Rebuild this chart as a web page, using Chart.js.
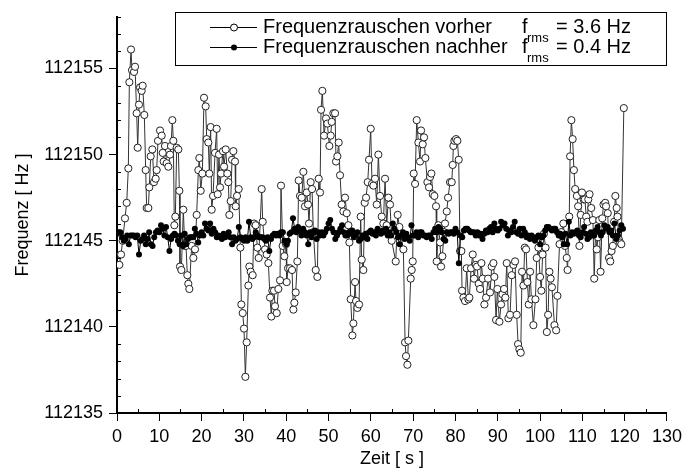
<!DOCTYPE html>
<html>
<head>
<meta charset="utf-8">
<script src="https://cdn.jsdelivr.net/npm/chart.js@4.4.1/dist/chart.umd.min.js"></script>
<style>
  html, body { margin: 0; padding: 0; background: #fff; }
  #chart { display: block; }
</style>
</head>
<body>
<canvas id="chart" width="687" height="474"></canvas>
<script>
// Achsen
const xTicks = [0, 10, 20, 30, 40, 50, 60, 70, 80, 90, 100, 110, 120, 130];
const yTicks = [112135, 112140, 112145, 112150, 112155];
const xMin = 0, xMax = 130, yMin = 112135, yMax = 112158;

// Frequenzrauschen vorher: [Zeit s, Frequenz Hz]
const vorher = [
  [0.55,112143.6],[0.95,112144.2],[1.34,112145.0],[1.89,112146.3],[2.29,112147.2],[2.68,112149.2],[2.92,112154.2],[3.31,112156.1],
  [3.55,112154.9],[4.02,112154.8],[4.26,112155.1],[4.65,112152.4],[4.89,112150.4],[5.20,112152.9],[5.44,112153.9],[5.83,112153.7],
  [6.07,112154.0],[6.46,112152.3],[6.78,112149.1],[7.01,112146.9],[7.41,112146.9],[7.64,112148.1],[7.96,112149.9],[8.35,112150.3],
  [8.75,112148.4],[9.14,112148.6],[9.38,112149.1],[9.69,112150.8],[10.17,112151.4],[10.56,112151.1],[10.80,112150.1],[11.03,112149.6],
  [11.35,112150.5],[11.74,112149.5],[12.14,112149.3],[12.53,112150.0],[12.77,112150.5],[13.08,112152.0],[13.32,112150.8],[13.55,112145.9],
  [13.79,112146.4],[14.11,112150.4],[14.50,112150.3],[14.74,112147.9],[14.89,112143.5],[15.21,112143.3],[15.68,112146.8],[16.00,112144.7],
  [16.31,112144.7],[16.63,112143.0],[16.86,112142.5],[17.10,112142.2],[17.65,112144.7],[18.05,112144.0],[18.44,112144.5],[18.83,112146.5],
  [19.23,112149.1],[19.46,112149.8],[19.78,112147.9],[20.17,112148.9],[20.57,112153.3],[20.96,112152.8],[21.20,112150.9],[21.59,112150.7],
  [21.83,112148.9],[22.14,112151.6],[22.38,112146.8],[22.70,112147.6],[23.17,112150.1],[23.56,112151.5],[23.80,112147.7],[24.11,112150.0],
  [24.35,112148.1],[24.59,112148.9],[25.06,112150.2],[25.30,112149.3],[25.69,112150.3],[26.08,112148.9],[26.32,112148.4],[26.56,112146.5],
  [26.87,112147.3],[27.19,112149.7],[27.50,112150.2],[27.90,112149.6],[28.05,112147.0],[28.37,112147.6],[28.76,112148.0],[29.16,112144.6],
  [29.39,112141.3],[29.71,112140.8],[30.02,112139.9],[30.34,112137.1],[30.65,112139.1],[31.05,112142.4],[31.28,112143.5],[31.60,112143.2],
  [32.07,112143.0],[32.39,112146.0],[32.78,112145.9],[33.18,112144.6],[33.49,112144.0],[34.20,112148.0],[34.44,112146.1],[34.99,112144.5],
  [35.38,112144.2],[35.78,112143.7],[36.17,112141.7],[36.49,112140.6],[36.72,112142.1],[37.12,112142.1],[37.35,112141.2],[37.75,112140.8],
  [38.14,112142.2],[38.53,112142.7],[38.77,112148.2],[39.16,112144.7],[39.56,112144.1],[39.95,112144.8],[40.11,112142.6],[40.43,112143.4],
  [40.90,112143.4],[41.37,112143.3],[41.69,112141.0],[41.92,112141.4],[42.24,112142.0],[42.63,112143.8],[42.95,112148.5],[43.26,112147.6],
  [43.66,112147.5],[44.05,112149.0],[44.44,112147.0],[44.84,112147.8],[45.15,112147.1],[45.39,112146.0],[45.78,112148.4],[46.10,112148.0],
  [46.41,112145.5],[46.97,112143.3],[47.36,112142.9],[47.68,112148.6],[47.99,112147.8],[48.23,112152.6],[48.54,112153.7],[48.94,112151.1],
  [49.41,112152.1],[49.72,112151.8],[50.20,112150.5],[50.51,112151.1],[50.75,112151.9],[51.14,112152.4],[51.54,112152.4],[51.77,112149.6],
  [52.09,112149.9],[52.40,112150.7],[52.72,112148.8],[53.11,112147.1],[53.51,112146.7],[53.90,112147.5],[54.30,112146.6],[54.69,112145.9],
  [54.93,112144.9],[55.24,112141.6],[55.64,112139.5],[55.87,112140.2],[56.27,112142.6],[56.50,112141.5],[56.82,112141.1],[57.21,112141.3],
  [57.60,112146.4],[57.84,112143.9],[58.23,112143.3],[58.55,112147.2],[58.87,112147.5],[59.26,112148.4],[59.57,112149.7],[59.97,112151.5],
  [60.28,112148.3],[60.60,112148.2],[60.99,112148.6],[61.39,112147.1],[61.78,112150.0],[62.17,112147.6],[62.57,112146.4],[62.96,112146.0],
  [63.36,112148.6],[63.75,112145.9],[64.15,112147.5],[64.54,112147.1],[64.93,112145.0],[65.88,112143.8],[66.35,112146.5],[66.75,112145.8],
  [67.69,112144.5],[68.09,112139.1],[68.32,112138.3],[68.64,112137.8],[68.87,112139.2],[69.42,112142.8],[69.66,112143.3],[69.90,112143.8],
  [70.13,112148.9],[70.45,112148.3],[70.84,112152.0],[71.24,112150.7],[71.63,112149.6],[71.87,112151.4],[72.26,112150.6],[72.58,112151.0],
  [72.89,112149.8],[73.37,112148.4],[73.76,112148.1],[74.00,112148.7],[74.31,112148.9],[74.63,112147.7],[75.02,112147.6],[75.41,112147.0],
  [75.57,112143.8],[75.96,112145.9],[76.36,112144.9],[76.60,112143.5],[76.91,112144.1],[77.30,112145.5],[77.54,112146.0],[77.94,112146.7],
  [78.25,112147.5],[78.72,112148.4],[79.12,112148.4],[79.35,112149.4],[79.51,112150.5],[79.75,112150.8],[80.14,112150.9],[80.46,112150.8],
  [80.77,112149.7],[81.09,112144.4],[81.40,112144.4],[81.56,112142.1],[81.88,112141.7],[82.27,112141.5],[82.66,112143.4],[83.06,112141.6],
  [83.29,112141.7],[83.69,112143.4],[84.08,112144.2],[84.40,112142.8],[84.79,112143.6],[85.11,112143.5],[85.50,112142.5],[85.82,112142.2],
  [86.13,112143.7],[86.45,112142.8],[86.84,112141.3],[87.23,112141.7],[87.71,112142.8],[88.18,112142.0],[88.57,112143.5],[88.97,112143.7],
  [89.20,112142.9],[89.60,112140.4],[89.91,112142.2],[90.39,112140.3],[90.78,112141.3],[91.10,112141.9],[91.49,112142.2],[91.80,112141.7],
  [92.12,112143.7],[92.51,112140.5],[92.91,112140.7],[93.30,112143.0],[93.70,112143.6],[94.09,112143.8],[94.48,112140.7],[94.80,112139.0],
  [95.11,112138.7],[95.43,112138.5],[95.74,112143.2],[96.06,112142.4],[96.38,112144.6],[96.69,112144.5],[97.01,112142.6],[97.32,112141.3],
  [97.64,112143.2],[97.95,112141.6],[98.42,112140.1],[98.90,112141.6],[99.21,112144.0],[99.61,112144.6],[100.0,112142.9],[100.3,112142.1],
  [100.6,112144.2],[100.9,112145.4],[101.3,112144.6],[101.6,112139.7],[101.9,112140.7],[102.2,112143.2],[102.5,112142.8],[102.8,112142.3],
  [103.4,112140.1],[103.8,112139.8],[104.1,112141.8],[104.6,112144.8],[105.0,112145.5],[105.5,112146.0],[105.9,112144.7],[106.3,112144.0],
  [106.5,112143.3],[106.9,112146.4],[107.1,112149.9],[107.4,112152.0],[107.7,112150.9],[108.0,112149.1],[108.3,112148.0],[108.7,112147.6],
  [109.0,112147.0],[109.3,112144.7],[109.6,112146.5],[109.9,112147.8],[110.3,112147.4],[110.6,112147.4],[110.9,112146.4],[111.2,112146.1],
  [111.4,112147.4],[111.7,112147.7],[112.1,112146.9],[112.5,112146.2],[112.8,112142.8],[113.1,112145.5],[113.4,112144.5],[113.7,112145.2],
  [114.0,112146.2],[114.3,112143.2],[114.7,112146.3],[115.0,112147.1],[115.4,112147.2],[115.6,112147.0],[116.0,112146.6],[116.3,112144.0],
  [116.6,112143.8],[116.9,112144.4],[117.2,112144.7],[117.5,112146.1],[117.8,112147.6],[118.1,112146.9],[118.3,112146.4],[118.6,112145.1],
  [118.9,112144.9],[119.2,112144.8],[119.8,112152.7]
];

// Frequenzrauschen nachher: Abtastung alle 0.4 s ab 0 s
const nachherStep = 0.4;
const nachherFreq = [
  112145.4,112145.5,112145.5,112145.2,112145.0,112145.1,112145.3,112144.8,112145.3,112145.3,
  112145.3,112145.2,112145.3,112144.2,112145.0,112145.1,112145.3,112144.8,112145.1,112145.5,
  112144.8,112144.7,112145.2,112145.5,112145.6,112145.5,112145.9,112145.7,112145.3,112145.8,
  112145.2,112144.4,112145.1,112145.3,112145.4,112145.3,112145.0,112144.8,112145.3,112144.7,
  112145.4,112144.8,112145.1,112145.2,112145.2,112145.2,112145.7,112145.4,112144.9,112145.3,
  112145.5,112145.3,112146.0,112145.7,112145.6,112146.0,112145.4,112145.7,112145.5,112145.2,
  112145.3,112145.2,112145.1,112145.4,112145.2,112145.3,112145.5,112145.2,112144.8,112145.2,
  112145.0,112145.1,112145.8,112145.2,112145.1,112145.0,112145.2,112145.0,112146.1,112145.2,
  112145.1,112145.2,112145.5,112145.3,112145.2,112145.2,112145.2,112145.1,112145.0,112145.2,
  112144.4,112145.1,112145.3,112145.4,112145.3,112145.4,112145.3,112145.5,112145.5,112145.0,
  112144.8,112145.0,112145.4,112145.5,112146.3,112145.7,112145.5,112145.8,112145.6,112145.3,
  112145.7,112145.5,112145.3,112144.8,112145.5,112145.2,112145.5,112145.6,112145.1,112145.5,
  112145.3,112145.5,112145.3,112145.5,112145.7,112146.0,112146.2,112145.7,112145.5,112145.1,
  112145.3,112145.5,112145.7,112145.9,112145.5,112145.3,112145.3,112145.5,112145.4,112145.6,
  112145.2,112145.3,112145.5,112145.0,112145.1,112145.3,112145.2,112145.4,112145.1,112145.5,
  112145.6,112145.4,112145.5,112145.3,112145.7,112145.5,112145.4,112145.6,112145.5,112145.7,
  112145.3,112145.5,112145.3,112146.0,112145.7,112145.5,112145.2,112144.8,112145.3,112145.5,
  112145.1,112145.4,112145.2,112145.0,112145.9,112145.3,112145.3,112145.5,112145.2,112145.5,
  112145.5,112145.3,112145.3,112145.2,112145.3,112145.3,112145.1,112145.5,112145.7,112145.5,
  112145.8,112145.7,112145.5,112145.1,112145.0,112145.5,112145.4,112145.5,112145.5,112145.4,
  112145.7,112145.5,112143.7,112145.3,112145.2,112145.6,112145.7,112145.7,112145.6,112145.5,
  112145.5,112145.5,112145.3,112145.5,112145.3,112145.4,112145.1,112145.4,112145.6,112145.5,
  112145.7,112145.8,112145.5,112146.0,112145.7,112145.6,112145.7,112146.1,112145.9,112146.0,
  112145.7,112145.3,112145.6,112145.5,112145.8,112146.1,112145.5,112145.4,112145.7,112145.3,
  112145.7,112145.5,112145.2,112145.3,112145.1,112145.3,112145.2,112145.0,112145.2,112145.3,
  112144.8,112145.2,112145.3,112145.6,112145.8,112145.8,112145.7,112145.6,112145.7,112145.7,
  112145.5,112145.3,112145.4,112145.2,112144.8,112145.4,112144.8,112146.1,112145.3,112145.5,
  112145.4,112145.5,112145.6,112145.3,112145.2,112145.5,112145.8,112145.4,112145.1,112145.2,
  112145.5,112145.3,112145.3,112145.6,112145.8,112145.5,112145.3,112145.5,112145.9,112145.7,
  112145.8,112145.5,112145.6,112145.3,112146.0,112145.1,112145.3,112145.6,112145.9,112145.7
];

const legendRows = [
  { label: "Frequenzrauschen vorher", rms: "= 3.6 Hz", open: true },
  { label: "Frequenzrauschen nachher", rms: "= 0.4 Hz", open: false },
];

const FONT = "'Liberation Sans', Arial, Helvetica, sans-serif";

// kleine Striche nach innen + Legende mit f_rms
const extraMarks = {
  id: "extraMarks",
  afterDraw(chart) {
    const { ctx, chartArea: area } = chart;
    const xs = chart.scales.x, ys = chart.scales.y;
    ctx.save();
    ctx.strokeStyle = "#000";
    ctx.lineWidth = 1;
    ctx.beginPath();
    for (let v = xMin; v <= xMax; v += 5) {
      if (xTicks.includes(v)) continue;
      const px = Math.round(xs.getPixelForValue(v)) + 0.5;
      ctx.moveTo(px, area.bottom);
      ctx.lineTo(px, area.bottom - 4);
    }
    for (let v = yMin; v <= yMax; v += 1) {
      if (yTicks.includes(v)) continue;
      const py = Math.round(ys.getPixelForValue(v)) + 0.5;
      ctx.moveTo(area.left, py);
      ctx.lineTo(area.left + 4, py);
    }
    ctx.stroke();

    // Legende
    const boxL = 175, boxR = area.right, boxT = 12, boxB = 65;
    ctx.lineWidth = 1;
    ctx.strokeRect(boxL + 0.5, boxT + 0.5, boxR - boxL - 1, boxB - boxT);
    legendRows.forEach((row, i) => {
      const y = 27 + i * 20;
      ctx.strokeStyle = "#000";
      ctx.beginPath();
      ctx.moveTo(210, y + 0.5);
      ctx.lineTo(257, y + 0.5);
      ctx.stroke();
      ctx.beginPath();
      if (row.open) {
        ctx.arc(234, y + 0.5, 3.5, 0, Math.PI * 2);
        ctx.fillStyle = "#fff";
        ctx.fill();
        ctx.stroke();
      } else {
        ctx.arc(234, y + 0.5, 3, 0, Math.PI * 2);
        ctx.fillStyle = "#000";
        ctx.fill();
      }
      ctx.fillStyle = "#000";
      ctx.textBaseline = "middle";
      ctx.textAlign = "left";
      ctx.font = "20px " + FONT;
      ctx.fillText(row.label, 263, y, 250);
      ctx.fillText("f", 522, y);
      ctx.fillText(row.rms, 556, y, 75);
      ctx.font = "13px " + FONT;
      ctx.fillText("rms", 527, y + 11);
    });
    ctx.restore();
  },
};

const ctx = document.getElementById("chart").getContext("2d");
new Chart(ctx, {
  type: "scatter",
  data: {
    datasets: [
      {
        label: "Frequenzrauschen nachher",
        data: nachherFreq.map((f, i) => ({ x: i * nachherStep, y: f })),
        showLine: true,
        borderColor: "#000",
        borderWidth: 1,
        pointRadius: 3,
        pointBackgroundColor: "#000",
        pointBorderColor: "#000",
        pointBorderWidth: 0,
      },
      {
        label: "Frequenzrauschen vorher",
        data: vorher.map(([t, f]) => ({ x: t, y: f })),
        showLine: true,
        borderColor: "#333",
        borderWidth: 1,
        pointRadius: 3.6,
        pointBackgroundColor: "#fff",
        pointBorderColor: "#222",
        pointBorderWidth: 1,
      },
    ],
  },
  options: {
    responsive: false,
    animation: false,
    devicePixelRatio: 1,
    layout: { padding: { top: 14, right: 20, left: 0, bottom: 0 } },
    plugins: { legend: { display: false }, tooltip: { enabled: false } },
    scales: {
      x: {
        type: "linear",
        min: xMin,
        max: xMax,
        afterBuildTicks: (s) => { s.ticks = xTicks.map((v) => ({ value: v })); },
        afterFit: (s) => { s.height = 61; },
        ticks: { color: "#000", font: { size: 18, family: FONT }, padding: 5, maxRotation: 0, callback: (v) => String(v) },
        grid: { drawOnChartArea: false, drawTicks: true, tickLength: 8, color: "#000", lineWidth: 1 },
        border: { display: true, color: "#000", width: 2 },
        title: { display: true, text: "Zeit [ s ]", color: "#000", font: { size: 18, family: FONT }, padding: { top: 0, bottom: 4 } },
      },
      y: {
        type: "linear",
        min: yMin,
        max: yMax,
        afterBuildTicks: (s) => { s.ticks = yTicks.map((v) => ({ value: v })); },
        afterFit: (s) => { s.width = 117; },
        ticks: { color: "#000", font: { size: 18, family: FONT }, padding: 6, callback: (v) => String(v) },
        grid: { drawOnChartArea: false, drawTicks: true, tickLength: 8, color: "#000", lineWidth: 1 },
        border: { display: true, color: "#000", width: 2 },
        title: { display: true, text: "Frequenz [ Hz ]", color: "#000", font: { size: 18, family: FONT }, padding: { top: 12, bottom: 0 } },
      },
    },
  },
  plugins: [extraMarks],
});
</script>
</body>
</html>
